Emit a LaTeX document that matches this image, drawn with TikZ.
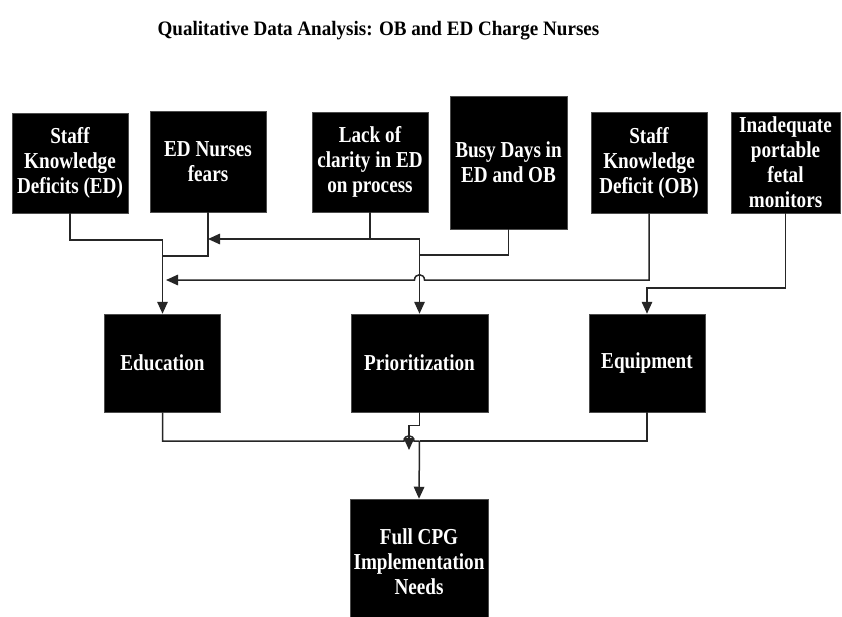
\documentclass[tikz,border=0pt]{standalone}
\usepackage{fontspec}
\setmainfont{Liberation Serif}
\newfontfamily\boxfont{Liberation Serif}[FakeStretch=0.84]
\newfontfamily\titlefont{Liberation Serif}[FakeStretch=0.93]
\usetikzlibrary{arrows.meta}
\begin{document}
\begin{tikzpicture}[x=1pt,y=-1pt,
  box/.style={fill=black,draw=black!70,line width=0.5pt,text=white,
    font=\boxfont\bfseries\fontsize{22.8}{25}\selectfont,align=center,inner sep=0pt},
  ln/.style={draw=black!85,line width=1.5pt},
  arr/.style={ln,-{Triangle[width=10.5pt,length=12pt]}},
  titlestyle/.style={font=\titlefont\bfseries\fontsize{20.5}{22}\selectfont}]
\clip (0,0) rectangle (842,616);
\fill[white] (0,0) rectangle (842,616);

\node[titlestyle] (title) at (378.5,31) {Qualitative Data Analysis: OB and ED Charge Nurses};

% top boxes
\node[box,minimum width=116pt,minimum height=100pt] (b1) at (70,163) {Staff\\Knowledge\\Deficits (ED)};
\node[box,minimum width=116pt,minimum height=101pt] (b2) at (208,161.5) {ED Nurses\\fears};
\node[box,minimum width=116pt,minimum height=100pt] (b3) at (370,162) {Lack of\\clarity in ED\\on process};
\node[box,minimum width=117pt,minimum height=133pt] (b4) at (508.5,162.5) {Busy Days in\\ED and OB};
\node[box,minimum width=116pt,minimum height=101pt] (b5) at (649,162.5) {Staff\\Knowledge\\Deficit (OB)};
\node[box,minimum width=109pt,minimum height=101pt] (b6) at (785.5,162.5) {Inadequate\\portable\\fetal\\monitors};

% middle boxes
\node[box,minimum width=116pt,minimum height=98pt] (edu) at (162.5,363) {Education};
\node[box,minimum width=137pt,minimum height=98pt] (prio) at (419.5,363) {Prioritization};
\node[box,minimum width=116pt,minimum height=98pt] (equip) at (647,363) {Equipment};

% bottom box
\node[box,minimum width=138pt,minimum height=126pt] (cpg) at (419,562) {Full CPG\\Implementation\\Needs};

% junction coordinates
\coordinate (j1) at (162.5,240);
\coordinate (j2) at (162.5,256);
\coordinate (j3) at (208,239);
\coordinate (j4) at (419.5,239);
\coordinate (j5) at (419.5,255);
\coordinate (j6) at (166,280);
\coordinate (j7) at (647,288);
\coordinate (j8) at (419.5,441);
\coordinate (j9) at (409,450);

% top connectors
\draw[arr] (b1.south) |- (j1) -- (edu.north);
\draw[ln] (b2.south) |- (j2);
\draw[arr] (b3.south) |- (j3);
\draw[arr] (b3.south) |- (j4) -- (prio.north);
\draw[ln] (b4.south) |- (j5);
\draw[arr] (b5.south) |- (424.5,280) .. controls (424.5,273) and (414.5,273) .. (414.5,280) -- (j6);
\draw[arr] (b6.south) |- (j7) -- (equip.north);

% bottom connectors
\draw[ln] (edu.south) |- (404,441) .. controls (404,434) and (414,434) .. (414,441) -- (j8);
\draw[ln] (equip.south) |- (j8);
\draw[arr] (prio.south) -- ++(0,13) -| (j9);
\draw[arr] (j8) -- (cpg.north);
\end{tikzpicture}
\end{document}
